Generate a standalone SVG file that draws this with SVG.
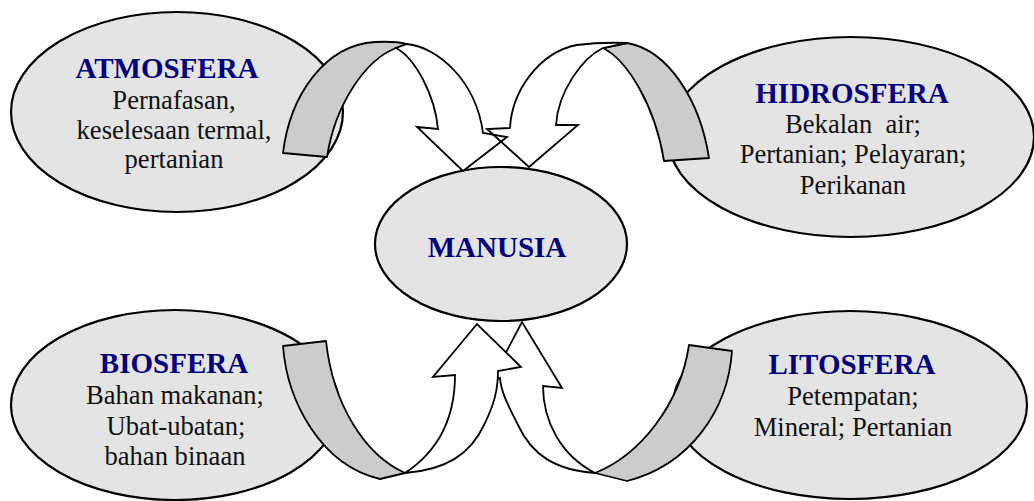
<svg xmlns="http://www.w3.org/2000/svg" xmlns:xlink="http://www.w3.org/1999/xlink" width="1034" height="501" viewBox="0 0 1034 501">
<style>
.node{fill:#e4e4e4;stroke:#000;stroke-width:2.2}
.title{font-family:"Liberation Serif","Times New Roman",serif;font-weight:bold;font-size:29px;fill:#000080;text-anchor:middle}
.body{font-family:"Liberation Serif","Times New Roman",serif;font-size:26.6px;fill:#111;text-anchor:middle}
.back{fill:#cccccc;stroke:#000;stroke-width:1.8;stroke-linejoin:round}
.front{fill:#fff;stroke:#000;stroke-width:1.8;stroke-linejoin:miter}
.fillonly{stroke:none}
.strokeonly{fill:none}
</style>
<defs>
<path id="tlGray" d="M283,153 C290,95 325,45 375,42 Q395,41 407,44 L396,48 C365,60 335,105 327,157 Z"/>
<path id="tlWhite" d="M407,44 C437,47 476,80 483,133 L507,137 L463,171 L417,127 L438,129 C435,95 415,58 396,48 Z"/>
<path id="trGray" d="M709,158 C700,100 668,50 627,43 L603,48 C627,60 655,105 664,161 Z"/>
<path id="trWhite" d="M627,43 Q600,42 577,45 C540,52 512,90 510,128 L487,129 L529,167 L578,125 L556,125 C558,92 582,58 603,48 Z"/>
</defs>
<rect width="1034" height="501" fill="#fff"/>

<g id="atmosfera">
<ellipse class="node" cx="177" cy="112" rx="166" ry="100"/>
<text class="title" x="167" y="78">ATMOSFERA</text>
<text class="body" x="174" y="109">Pernafasan,</text>
<text class="body" x="174" y="139">keselesaan termal,</text>
<text class="body" x="174" y="168">pertanian</text>
</g>

<g id="hidrosfera">
<ellipse class="node" cx="851" cy="137" rx="183" ry="100"/>
<text class="title" x="852" y="103">HIDROSFERA</text>
<text class="body" x="853" y="133">Bekalan&#160; air;</text>
<text class="body" x="853" y="163">Pertanian; Pelayaran;</text>
<text class="body" x="853" y="194">Perikanan</text>
</g>

<g id="biosfera">
<ellipse class="node" cx="175" cy="405" rx="164" ry="95"/>
<text class="title" x="174" y="373">BIOSFERA</text>
<text class="body" x="175" y="404">Bahan makanan;</text>
<text class="body" x="176" y="435">Ubat-ubatan;</text>
<text class="body" x="175" y="465">bahan binaan</text>
</g>

<g id="litosfera">
<ellipse class="node" cx="850" cy="405" rx="177" ry="94"/>
<text class="title" x="852" y="374">LITOSFERA</text>
<text class="body" x="853" y="405">Petempatan;</text>
<text class="body" x="853" y="436">Mineral; Pertanian</text>
</g>

<g id="manusia">
<ellipse class="node" cx="501" cy="244" rx="126" ry="77"/>
<text class="title" x="497" y="257">MANUSIA</text>
</g>

<g id="connectors">
<g id="arrow-atmosfera">
<use xlink:href="#tlGray" class="back"/>
</g>
<g id="arrow-hidrosfera">
<use xlink:href="#trGray" class="back"/>
</g>
<use xlink:href="#trWhite" class="front fillonly"/>
<use xlink:href="#tlWhite" class="front fillonly"/>
<use xlink:href="#trWhite" class="front strokeonly"/>
<use xlink:href="#tlWhite" class="front strokeonly"/>

<g id="arrow-litosfera">
<path class="back" d="M689,345 L732,351 C728,410 690,465 627,481 L595,473 C640,455 680,405 689,345 Z"/>
<path class="front" d="M595,473 C555,470 532,455 518,425 C508,405 501,392 500,378 L490,383 L522,322 L562,388 L543,386 C543,420 560,455 595,473 Z"/>
</g>
<g id="arrow-biosfera">
<path class="back" d="M283,346 L326,341 C333,405 365,455 405,473 L380,479 C320,465 287,400 283,346 Z"/>
<path class="front" d="M405,473 C445,470 470,455 484,425 C494,405 498,390 498,371 L521,367 L477,324 L433,377 L455,375 C455,415 440,450 405,473 Z"/>
</g>
</g>
</svg>
